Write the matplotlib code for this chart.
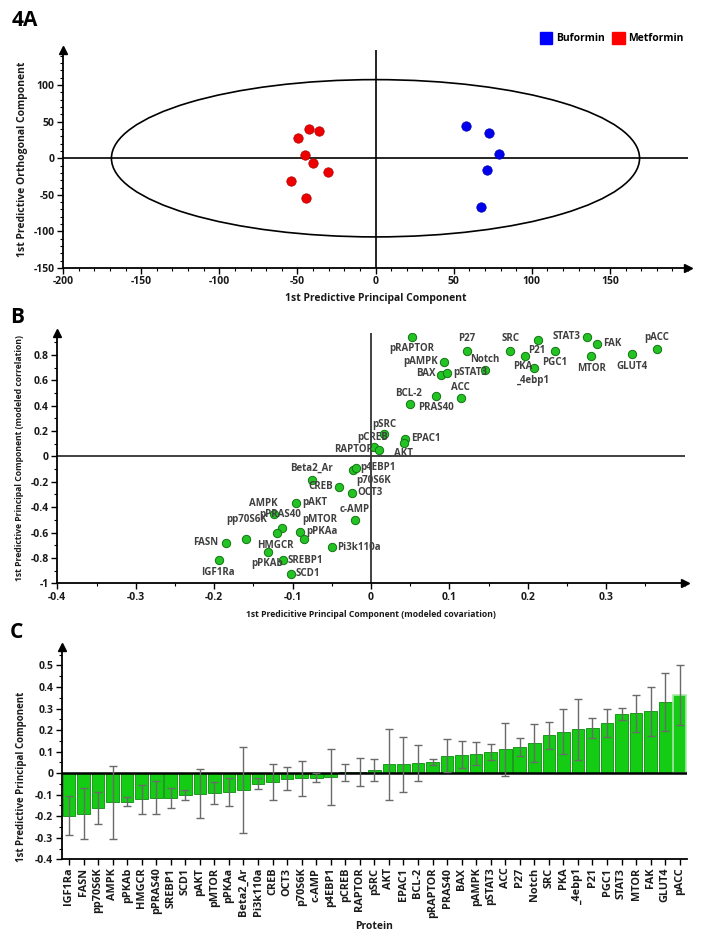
import matplotlib
matplotlib.use("Agg")
import matplotlib.pyplot as plt
import numpy as np
from matplotlib.patches import Ellipse, Patch
from matplotlib.ticker import MultipleLocator, FuncFormatter

plt.rcParams['font.family'] = ['Open Sans', 'DejaVu Sans']
plt.rcParams['font.weight'] = 'bold'
plt.rcParams['axes.unicode_minus'] = False

# ---------------- Panel A data ----------------
metformin_x = [-42.5, -36.2, -49.4, -45.1, -40.0, -30.2, -54.0, -44.5]
metformin_y = [40.5, 37.7, 27.7, 4.5, -6.4, -19.1, -30.9, -54.5]
buformin_x = [57.8, 72.7, 79.0, 71.3, 67.5]
buformin_y = [44.1, 34.1, 5.5, -16.4, -66.8]
ellipse_rx = 169
ellipse_ry = 107.5

# ---------------- Panel B data ----------------
b_labels = ['IGF1Ra', 'FASN', 'pp70S6K', 'AMPK', 'pPRAS40', 'HMGCR', 'pPKAb', 'SREBP1',
            'SCD1', 'pAKT', 'pMTOR', 'pPKAa', 'Pi3k110a', 'Beta2_Ar', 'CREB', 'OCT3',
            'p70S6K', 'p4EBP1', 'c-AMP', 'RAPTOR', 'pCREB', 'pSRC', 'EPAC1', 'AKT',
            'BCL-2', 'PRAS40', 'ACC', 'BAX', 'pSTAT3', 'pAMPK', 'Notch', 'P27',
            'pRAPTOR', 'SRC', 'PKA', '_4ebp1', 'P21', 'PGC1', 'STAT3', 'FAK', 'MTOR',
            'GLUT4', 'pACC']
b_cov = [-0.194, -0.185, -0.159, -0.124, -0.114, -0.120, -0.131, -0.112,
         -0.102, -0.095, -0.091, -0.085, -0.049, -0.075, -0.041, -0.024,
         -0.023, -0.019, -0.020, 0.0042, 0.0102, 0.017, 0.0429, 0.042,
         0.0494, 0.083, 0.115, 0.090, 0.0974, 0.0936, 0.146, 0.1226,
         0.0519, 0.178, 0.196, 0.2077, 0.213, 0.2345, 0.2757, 0.2885, 0.281,
         0.333, 0.3655]
b_corr = [-0.818, -0.684, -0.647, -0.455, -0.561, -0.605, -0.755, -0.818,
          -0.924, -0.366, -0.597, -0.653, -0.716, -0.189, -0.239, -0.287,
          -0.111, -0.089, -0.505, 0.074, 0.053, 0.176, 0.139, 0.102,
          0.411, 0.479, 0.458, 0.645, 0.658, 0.745, 0.679, 0.834,
          0.945, 0.834, 0.792, 0.695, 0.918, 0.834, 0.945, 0.887, 0.789,
          0.805, 0.850]
# label offsets (pixels) relative to each point: layout only
b_offsets = [(-1, -12), (-20, 1), (0, 19), (-10, 11), (-1, 13), (-1, -12), (-1, -11), (22, 0),
             (17, 0), (18, 0), (20, 13), (18, 8), (26, 0), (-1, 12), (-18, 0), (18, 0),
             (21, -10), (22, 0), (-1, 11), (-21, -2), (-6, 12), (0, 10), (21, 0), (0, -10),
             (-1, 11), (0, -12), (-1, 11), (-16, 1), (23, 0), (-24, 0), (-1, 11), (0, 12),
             (0, -12), (0, 12), (-2, -11), (-1, -12), (-1, -11), (0, -12), (-21, 0), (15, 0), (0, -12),
             (0, -12), (-1, 11)]

# ---------------- Panel C data ----------------
proteins = ['IGF1Ra', 'FASN', 'pp70S6K', 'AMPK', 'pPKAb', 'HMGCR', 'pPRAS40', 'SREBP1',
            'SCD1', 'pAKT', 'pMTOR', 'pPKAa', 'Beta2_Ar', 'Pi3k110a', 'CREB', 'OCT3',
            'p70S6K', 'c-AMP', 'p4EBP1', 'pCREB', 'RAPTOR', 'pSRC', 'AKT', 'EPAC1',
            'BCL-2', 'pRAPTOR', 'PRAS40', 'BAX', 'pAMPK', 'pSTAT3', 'ACC', 'P27',
            'Notch', 'SRC', 'PKA', '_4ebp1', 'P21', 'PGC1', 'STAT3', 'MTOR', 'FAK',
            'GLUT4', 'pACC']
loadings = [-0.197, -0.188, -0.160, -0.136, -0.132, -0.121, -0.115, -0.115,
            -0.102, -0.095, -0.092, -0.087, -0.077, -0.049, -0.042, -0.025,
            -0.024, -0.021, -0.018, 0.003, 0.006, 0.014, 0.041, 0.041,
            0.047, 0.050, 0.081, 0.086, 0.091, 0.096, 0.112, 0.121,
            0.141, 0.175, 0.192, 0.204, 0.210, 0.231, 0.275, 0.278, 0.287,
            0.331, 0.362]
ci = [0.092, 0.119, 0.074, 0.169, 0.021, 0.068, 0.077, 0.047,
      0.024, 0.114, 0.052, 0.066, 0.200, 0.025, 0.083, 0.052,
      0.082, 0.021, 0.128, 0.039, 0.064, 0.050, 0.165, 0.127,
      0.085, 0.014, 0.076, 0.063, 0.054, 0.037, 0.123, 0.043,
      0.088, 0.061, 0.105, 0.141, 0.045, 0.065, 0.026, 0.085, 0.114,
      0.136, 0.138]

W, H = 701, 942
fig = plt.figure(figsize=(W / 100, H / 100), dpi=100)

TXT = '#1a1a1a'
FS = 7.5


def fr(left, top, right, bottom):
    return [left / W, 1 - bottom / H, (right - left) / W, (bottom - top) / H]


def style_axes(ax):
    for s in ['top', 'right']:
        ax.spines[s].set_visible(False)
    for s in ['left', 'bottom']:
        ax.spines[s].set_linewidth(1.3)
        ax.spines[s].set_color('black')
    ax.tick_params(which='major', length=4, width=1, labelsize=FS, colors='black', labelcolor=TXT, pad=2)
    ax.tick_params(which='minor', length=2.5, width=0.8, colors='black')


def arrows(ax, right=True):
    ax.plot(0, 1, marker='^', color='black', ms=6, transform=ax.transAxes, clip_on=False)
    if right:
        ax.plot(1, 0, marker='>', color='black', ms=6, transform=ax.transAxes, clip_on=False)


fmt = FuncFormatter(lambda v, p: '0' if abs(v) < 1e-9 else ('%g' % round(v, 3)))

# ================= Panel A =================
axA = fig.add_axes(fr(63, 50, 688, 268))
axA.set_xlim(-200, 200)
axA.set_ylim(-150, 148)
style_axes(axA)
axA.axhline(0, color='black', lw=1.2, zorder=1)
axA.axvline(0, color='black', lw=1.2, zorder=1)
axA.add_patch(Ellipse((0, 0), 2 * ellipse_rx, 2 * ellipse_ry, fill=False, lw=1.2, color='black'))
axA.scatter(metformin_x, metformin_y, s=46, color='#ee0000', edgecolors='#b00000', linewidths=0.5, zorder=3)
axA.scatter(buformin_x, buformin_y, s=46, color='#0000ee', edgecolors='#0000b0', linewidths=0.5, zorder=3)
axA.set_xticks([-200, -150, -100, -50, 0, 50, 100, 150])
axA.set_yticks([-150, -100, -50, 0, 50, 100])
axA.xaxis.set_minor_locator(MultipleLocator(10))
axA.yaxis.set_minor_locator(MultipleLocator(10))
axA.set_xlabel('1st Predictive Principal Component', fontsize=FS, fontweight='bold', color=TXT, labelpad=4)
axA.set_ylabel('1st Predictive Orthogonal Component', fontsize=FS, fontweight='bold', color=TXT, labelpad=4)
arrows(axA)

fig.text(12 / W, 1 - 20 / H, '4A', fontsize=15, fontweight='bold', va='center', ha='left')
leg = fig.legend(handles=[Patch(color='#0000ff', label='Buformin'), Patch(color='#ff0000', label='Metformin')],
                 loc='center right', bbox_to_anchor=(693 / W, 1 - 38 / H), ncol=2, frameon=False,
                 handlelength=1.2, handleheight=1.4, handletextpad=0.35, columnspacing=0.7,
                 prop={'weight': 'bold', 'size': FS})

# ================= Panel B =================
axB = fig.add_axes(fr(57.3, 332.7, 684.5, 583.3))
axB.set_xlim(-0.4, 0.4)
axB.set_ylim(-1, 0.975)
style_axes(axB)
axB.axhline(0, color='#333333', lw=1.3, zorder=1)
axB.axvline(0, color='#333333', lw=1.3, zorder=1)
axB.scatter(b_cov, b_corr, s=36, color='#22c322', edgecolors='#137313', linewidths=0.7, zorder=3)
for lab, x, y, off in zip(b_labels, b_cov, b_corr, b_offsets):
    axB.annotate(lab, (x, y), xytext=off, textcoords='offset pixels', ha='center', va='center',
                 fontsize=FS - 0.5, fontweight='bold', color='#404040', zorder=4)
axB.set_xticks([-0.4, -0.3, -0.2, -0.1, 0, 0.1, 0.2, 0.3])
axB.set_yticks([-1, -0.8, -0.6, -0.4, -0.2, 0, 0.2, 0.4, 0.6, 0.8])
axB.xaxis.set_minor_locator(MultipleLocator(0.05))
axB.yaxis.set_minor_locator(MultipleLocator(0.1))
axB.xaxis.set_major_formatter(fmt)
axB.yaxis.set_major_formatter(fmt)
axB.set_xlabel('1st Predicitive Principal Component (modeled covariation)', fontsize=6.2, fontweight='bold',
               color=TXT, labelpad=5)
axB.set_ylabel('1st Predictive Principal Component (modeled correlation)', fontsize=6.2, fontweight='bold',
               color=TXT, labelpad=5)
arrows(axB)
fig.text(10 / W, 1 - 318 / H, 'B', fontsize=15, fontweight='bold', va='center', ha='left')

# ================= Panel C =================
axC = fig.add_axes(fr(61.7, 646.7, 687, 859.3))
xs = np.arange(len(proteins))
axC.set_xlim(-0.5, len(proteins) - 0.5)
axC.set_ylim(-0.4, 0.587)
style_axes(axC)
edge_cols = ['#0c8c0c'] * (len(proteins) - 1) + ['#a8e8a8']
edge_w = [0.6] * (len(proteins) - 1) + [1.2]
axC.bar(xs, loadings, width=0.87, color='#14cc14', edgecolor=edge_cols, linewidth=edge_w, zorder=2)
axC.errorbar(xs, loadings, yerr=ci, fmt='none', ecolor='#6a6a6a', elinewidth=1, capsize=3, capthick=1, zorder=3)
axC.axhline(0, color='black', lw=1.8, zorder=2.5)
axC.set_xticks(xs)
axC.set_xticklabels(proteins, rotation=90, fontsize=FS + 0.3, color=TXT)
axC.set_yticks([-0.4, -0.3, -0.2, -0.1, 0, 0.1, 0.2, 0.3, 0.4, 0.5])
axC.yaxis.set_minor_locator(MultipleLocator(0.05))
axC.yaxis.set_major_formatter(fmt)
axC.set_xlabel('Protein', fontsize=FS, fontweight='bold', color=TXT, labelpad=2)
axC.set_ylabel('1st Predictive Principal Component', fontsize=7.0, fontweight='bold', color=TXT, labelpad=4)
axC.yaxis.set_label_coords(-0.055, 0.39)
axC.plot(0, 1, marker='^', color='black', ms=6, transform=axC.transAxes, clip_on=False)
fig.text(10 / W, 1 - 633 / H, 'C', fontsize=15, fontweight='bold', va='center', ha='left')

fig.savefig('out.png', dpi=100)
